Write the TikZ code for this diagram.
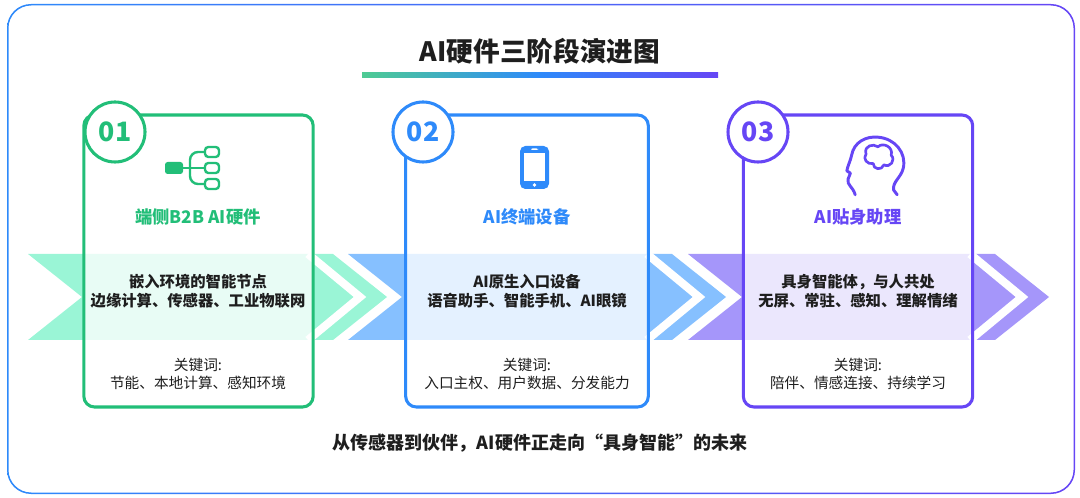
\documentclass[tikz,border=0pt]{standalone}
\usepackage{fontspec}
\setmainfont{Noto Sans CJK SC}
\usetikzlibrary{positioning, calc}
\definecolor{stagegreen}{RGB}{34, 190, 120}
\definecolor{stageblue}{RGB}{46, 138, 250}
\definecolor{stagepurple}{RGB}{102, 70, 245}
\definecolor{bandgreen}{RGB}{154, 245, 214}
\definecolor{bandblue}{RGB}{134, 192, 255}
\definecolor{bandpurple}{RGB}{165, 150, 250}
\definecolor{textdark}{RGB}{30, 30, 30}

\begin{document}
\begin{tikzpicture}[x=0.75pt, y=-0.75pt,
    card/.style={draw=#1, line width=2.3pt, rounded corners=8pt, fill=white, fill opacity=0.78, text opacity=1},
    badge/.style={circle, draw=#1, line width=2.3pt, fill=white, minimum size=45pt, text=#1, font=\fontsize{20}{20}\selectfont\bfseries},
    stagetitle/.style={text=#1, font=\fontsize{13}{15}\selectfont\bfseries},
    bandtext/.style={text=textdark, align=center, font=\fontsize{11.5}{14.5}\selectfont\bfseries},
    keytext/.style={text=textdark, align=center, font=\fontsize{11}{14}\selectfont}
]
    \useasboundingbox (0,0) rectangle (1080,498);

    % Frame
    \shade[left color=stageblue, right color=stagepurple, even odd rule]
        [rounded corners=18pt] (7,4) rectangle (1075,494)
        [rounded corners=17pt] (8.5,5.5) rectangle (1073.5,492.5);

    % Title
    \node[text=textdark, font=\fontsize{20}{22}\selectfont\bfseries] (title) at (540,51) {AI硬件三阶段演进图};
    \shade[left color=stagegreen!80, right color=stagepurple, middle color=stageblue] (362,73) rectangle (718,77.5);

    % Band
    \fill[bandgreen] (28,254) -- (333,254) -- (387,297) -- (333,340) -- (28,340) -- (82,297) -- cycle;
    \fill[bandblue] (348,254) -- (672,254) -- (726,297) -- (672,340) -- (348,340) -- (402,297) -- cycle;
    \fill[bandpurple] (688,254) -- (995,254) -- (1049,297) -- (995,340) -- (688,340) -- (742,297) -- cycle;
    \foreach \xr in {333, 672, 995} {
        \draw[white, line width=6pt] (\xr-25,254) -- (\xr+27,297) -- (\xr-25,340);
    }

    % Cards
    \node[card=stagegreen, minimum width=172pt, minimum height=219pt] (card1) at (198.5,261) {};
    \node[card=stageblue, minimum width=182pt, minimum height=219pt] (card2) at (527,261) {};
    \node[card=stagepurple, minimum width=172pt, minimum height=219pt] (card3) at (858,261) {};

    % Badges
    \node[badge=stagegreen] (badge1) at (115,132) {01};
    \node[badge=stageblue] (badge2) at (423,132) {02};
    \node[badge=stagepurple] (badge3) at (758,132) {03};

    % Icon 1: tree
    \fill[stagegreen, rounded corners=2pt] (165,162) rectangle (183,174);
    \draw[stagegreen, line width=1.8pt, rounded corners=5pt] (183,168) -- (205,168);
    \draw[stagegreen, line width=1.8pt, rounded corners=6pt] (205,152) -- (190,152) -- (190,184) -- (205,184);
    \foreach \yy in {152, 168, 184} {
        \draw[stagegreen, line width=1.8pt, rounded corners=2.5pt] (205,\yy-5) rectangle (219,\yy+5);
    }

    % Icon 2: phone
    \fill[stageblue, rounded corners=4pt] (520,146) rectangle (549,189);
    \fill[white] (524,153) rectangle (545,181);
    \fill[white] (534.5,185) circle (1.8);
    \fill[white, rounded corners=1pt] (531,148.5) rectangle (538,150);

    % Icon 3: head with brain
    \begin{scope}[scale around={1.2:(866,166)}]
    \draw[stagepurple, line width=2.2pt, line cap=round, line join=round]
        (857,190) .. controls (855,183) and (850,182) .. (851,177)
        -- (853,172) -- (850,170) .. controls (851,165) and (853,162) .. (854,157)
        .. controls (856,146) and (866,141) .. (876,142)
        .. controls (890,143) and (900,155) .. (897,168)
        .. controls (895,176) and (888,179) .. (889,186)
        -- (892,190);
    \draw[stagepurple, line width=2pt, line join=round]
        (866,156) .. controls (864,149) and (872,147) .. (876,150)
        .. controls (880,146) and (889,150) .. (887,157)
        .. controls (891,161) and (886,168) .. (881,165)
        .. controls (879,170) and (872,169) .. (872,164)
        .. controls (867,165) and (863,160) .. (866,156) -- cycle;
    \end{scope}

    % Stage titles
    \node[stagetitle=stagegreen] (name1) at (198,217) {端侧B2B AI硬件};
    \node[stagetitle=stageblue] (name2) at (527,217) {AI终端设备};
    \node[stagetitle=stagepurple] (name3) at (858,217) {AI贴身助理};

    % Band texts
    \node[bandtext] (desc1) at (198,291) {嵌入环境的智能节点\\边缘计算、传感器、工业物联网};
    \node[bandtext] (desc2) at (527,291) {AI原生入口设备\\语音助手、智能手机、AI眼镜};
    \node[bandtext] (desc3) at (858,291) {具身智能体，与人共处\\无屏、常驻、感知、理解情绪};

    % Keywords
    \node[keytext] (key1) at (198,374) {关键词:\\节能、本地计算、感知环境};
    \node[keytext] (key2) at (527,374) {关键词:\\入口主权、用户数据、分发能力};
    \node[keytext] (key3) at (858,374) {关键词:\\陪伴、情感连接、持续学习};

    % Footer
    \node[text=textdark, font=\fontsize{13.5}{15}\selectfont\bfseries] (footer) at (540,443) {从传感器到伙伴，AI硬件正走向“具身智能”的未来};
\end{tikzpicture}
\end{document}
